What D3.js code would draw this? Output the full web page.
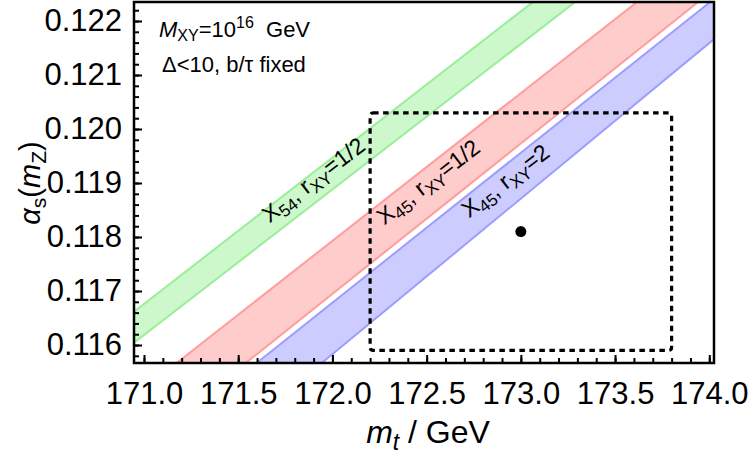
<!DOCTYPE html>
<html>
<head>
<meta charset="utf-8">
<script src="https://cdn.jsdelivr.net/npm/d3@7"></script>
<style>
body{margin:0;background:#fff;}
svg{display:block;font-family:"Liberation Sans",Arial,Helvetica,sans-serif;}
</style>
</head>
<body>
<svg id="chart"></svg>
<script>
//band edges: m_t where each edge crosses the two alpha levels below
var edgeAlpha = [0.1156, 0.1224];
var greenUpper = [170.572, 173.082];
var greenLower = [170.783, 173.306];
var redUpper = [171.149, 173.634];
var redLower = [171.516, 173.958];
var blueUpper = [171.574, 174.022];
var blueLower = [171.920, 174.280];

//experimental 2 sigma box and central value
var boxMt = [172.2, 173.8];
var boxAlpha = [0.1159, 0.1203];
var bestFit = [173.0, 0.1181];

//tick labels
var xMajor = [171.0, 171.5, 172.0, 172.5, 173.0, 173.5, 174.0];
var yMajor = [0.116, 0.117, 0.118, 0.119, 0.120, 0.121, 0.122];

//label anchors (centre of each rotated label)
var labelPos = [[171.924, 0.118944], [172.534, 0.118907], [172.943, 0.118926]];

var svgWidth = 750, svgHeight = 457;
var margin = {top: 2, right: 36, bottom: 94, left: 134};
var width = svgWidth - margin.left - margin.right;
var height = svgHeight - margin.top - margin.bottom;

var svg = d3.select("#chart")
	.attr("width", svgWidth)
	.attr("height", svgHeight);

var x = d3.scaleLinear()
	.domain([170.947, 174.025])
	.range([margin.left, margin.left + width]);

var y = d3.scaleLinear()
	.domain([0.115667, 0.122352])
	.range([margin.top + height, margin.top]);

svg.append("clipPath").attr("id", "plotclip")
	.append("rect")
	.attr("x", margin.left).attr("y", margin.top)
	.attr("width", width).attr("height", height);

var bands = [
	{upper: greenUpper, lower: greenLower, fill: "#ccf8cc", stroke: "#99ee99"},
	{upper: redUpper, lower: redLower, fill: "#ffcccc", stroke: "#ff9d9d"},
	{upper: blueUpper, lower: blueLower, fill: "#ccccff", stroke: "#9d9dff"}
];

var plot = svg.append("g").attr("clip-path", "url(#plotclip)");

var edge = d3.line()
	.x(d => x(d[0]))
	.y(d => y(d[1]));

bands.forEach(function(b){
	var up = b.upper.map((m, i) => [m, edgeAlpha[i]]);
	var lo = b.lower.map((m, i) => [m, edgeAlpha[i]]);
	plot.append("path")
		.attr("d", edge(up.concat(lo.slice().reverse())) + "Z")
		.attr("fill", b.fill);
	[up, lo].forEach(function(pts){
		plot.append("path")
			.attr("d", edge(pts))
			.attr("fill", "none")
			.attr("stroke", b.stroke)
			.attr("stroke-width", 2);
	});
});

//dashed box
plot.append("rect")
	.attr("x", x(boxMt[0]))
	.attr("y", y(boxAlpha[1]))
	.attr("width", x(boxMt[1]) - x(boxMt[0]))
	.attr("height", y(boxAlpha[0]) - y(boxAlpha[1]))
	.attr("rx", 3)
	.attr("fill", "none")
	.attr("stroke", "#000")
	.attr("stroke-width", 3.2)
	.attr("stroke-dasharray", "5.5,4.5");

plot.append("circle")
	.attr("cx", x(bestFit[0]))
	.attr("cy", y(bestFit[1]))
	.attr("r", 5.5)
	.attr("fill", "#000");

//band labels
var labelParts = [
	[["X",0],["54",1],[", r",0],["XY",1],["=1/2",0]],
	[["X",0],["45",1],[", r",0],["XY",1],["=1/2",0]],
	[["X",0],["45",1],[", r",0],["XY",1],["=2",0]]
];
labelParts.forEach(function(parts, i){
	var t = svg.append("text")
		.attr("transform", `translate(${x(labelPos[i][0])},${y(labelPos[i][1])}) rotate(-37.5)`)
		.attr("text-anchor", "middle")
		.attr("dy", "0.35em")
		.style("font-size", "23px");
	var shifted = 0;
	parts.forEach(function(p){
		var dy = p[1] ? 5 - shifted : -shifted;
		shifted += dy;
		t.append("tspan")
			.attr("dy", dy)
			.style("font-size", p[1] ? "17px" : "23px")
			.text(p[0]);
	});
});

//annotation
var note1 = svg.append("text")
	.attr("x", 159).attr("y", 37)
	.style("font-size", "22px");
note1.append("tspan").style("font-style", "italic").text("M");
note1.append("tspan").attr("dy", 4).style("font-size", "16px").text("XY");
note1.append("tspan").attr("dy", -4).text("=10");
note1.append("tspan").attr("dy", -9).style("font-size", "16px").text("16");
note1.append("tspan").attr("dy", 9).text("\u00a0 GeV");

svg.append("text")
	.attr("x", 162).attr("y", 72)
	.style("font-size", "22px")
	.text("\u0394<10, b/\u03c4 fixed");

//frame
svg.append("rect")
	.attr("x", margin.left).attr("y", margin.top)
	.attr("width", width).attr("height", height)
	.attr("fill", "none")
	.attr("stroke", "#000")
	.attr("stroke-width", 2.5);

//axes, ticks pointing inward
var xMinor = d3.range(171.0, 174.01, 0.1).map(v => +v.toFixed(1));
var yMinor = d3.range(0.1158, 0.12225, 0.0002).map(v => +v.toFixed(4));

var xAxisMinor = svg.append("g")
	.attr("transform", `translate(0,${margin.top + height})`)
	.call(d3.axisBottom(x).tickValues(xMinor).tickSize(-5).tickFormat(""));
var xAxis = svg.append("g")
	.attr("transform", `translate(0,${margin.top + height})`)
	.call(d3.axisBottom(x).tickValues(xMajor).tickSize(-8).tickPadding(19)
		.tickFormat(d3.format(".1f")));

var yAxisMinor = svg.append("g")
	.attr("transform", `translate(${margin.left},0)`)
	.call(d3.axisLeft(y).tickValues(yMinor).tickSize(-5).tickFormat(""));
var yAxis = svg.append("g")
	.attr("transform", `translate(${margin.left},0)`)
	.call(d3.axisLeft(y).tickValues(yMajor).tickSize(-8).tickPadding(12)
		.tickFormat(d3.format(".3f")));

svg.selectAll(".domain").remove();
svg.selectAll(".tick line").attr("stroke", "#000").attr("stroke-width", 2);
svg.selectAll(".tick text")
	.attr("fill", "#000")
	.style("font-family", "\"Liberation Sans\",Arial,sans-serif")
	.style("font-size", "31px");

//axis titles
var xTitle = svg.append("text")
	.attr("x", 428).attr("y", 443)
	.attr("text-anchor", "middle")
	.style("font-size", "32px");
xTitle.append("tspan").style("font-style", "italic").text("m");
xTitle.append("tspan").attr("dy", 7).style("font-style", "italic").style("font-size", "23px").text("t");
xTitle.append("tspan").attr("dy", -7).text(" / GeV");

var yTitle = svg.append("text")
	.attr("transform", "translate(40,183) rotate(-90)")
	.attr("text-anchor", "middle")
	.style("font-size", "29px");
yTitle.append("tspan").style("font-style", "italic").text("\u03b1");
yTitle.append("tspan").attr("dy", 6).style("font-size", "21px").text("s");
yTitle.append("tspan").attr("dy", -6).text("(");
yTitle.append("tspan").style("font-style", "italic").text("m");
yTitle.append("tspan").attr("dy", 6).style("font-size", "21px").text("Z");
yTitle.append("tspan").attr("dy", -6).text(")");
</script>
</body>
</html>
